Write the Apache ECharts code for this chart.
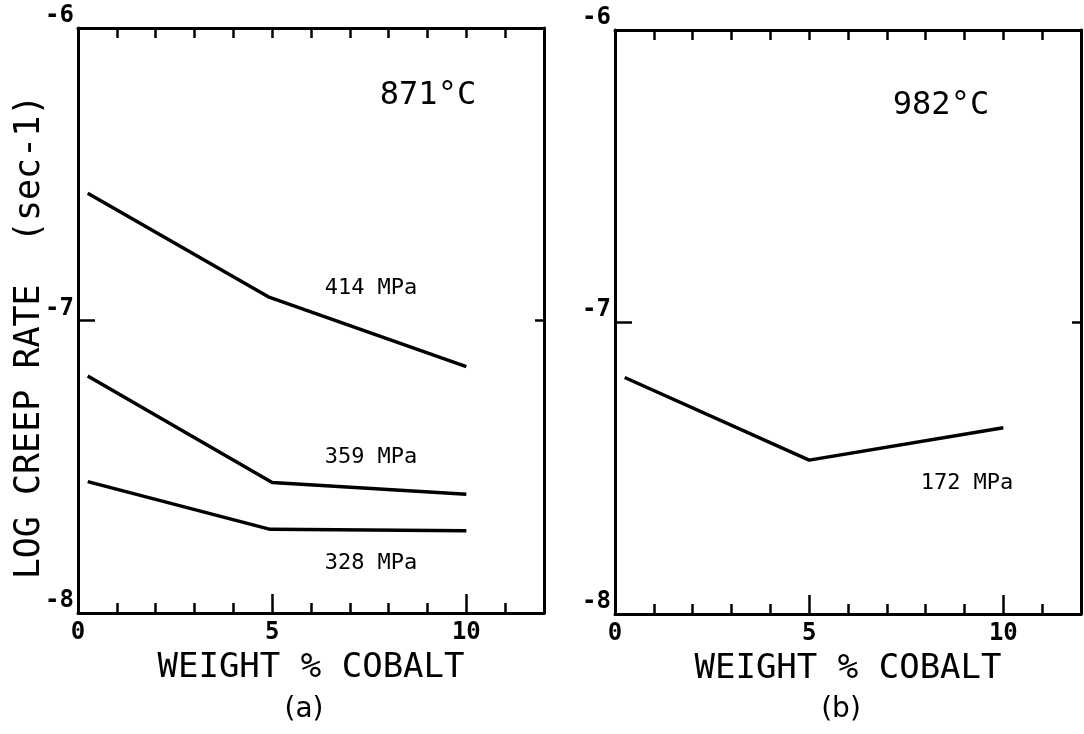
<!DOCTYPE html>
<html><head><meta charset="utf-8">
<script src="https://cdn.jsdelivr.net/npm/echarts@6/dist/echarts.min.js"></script>
<style>html,body{margin:0;padding:0;background:#fff}#c{width:1084px;height:734px}</style>
</head><body><div id="c"></div>
<script>
// ---- data ----
const cobalt414 = [0.25, 4.9, 10];
const rate414 = [-6.565, -6.919, -7.158];
const cobalt359 = [0.25, 5.0, 10];
const rate359 = [-7.19, -7.554, -7.594];
const cobalt328 = [0.25, 4.95, 10];
const rate328 = [-7.551, -7.714, -7.719];
const cobalt172 = [0.25, 5.0, 10];
const rate172 = [-7.19, -7.473, -7.362];
const xTickLabels = [0, 5, 10];
const yTickLabels = [-8, -7, -6];
const panelTemps = ['871°C', '982°C'];
const panelTags = ['(a)', '(b)'];
const stressLabelsA = ['414 MPa', '359 MPa', '328 MPa'];
const stressLabelsB = ['172 MPa'];

const F = 'DejaVu Sans Mono';
const K = '#000';
const zip = (xs, ys) => xs.map((x, i) => [x, ys[i]]);

function xBottom(gi) {
  return {
    type: 'value', gridIndex: gi, position: 'bottom', min: 0, max: 12, interval: 5,
    axisLine: { show: true, onZero: false, lineStyle: { color: K, width: 3 } },
    axisTick: { show: true, inside: true, length: 19, lineStyle: { color: K, width: 2.5 } },
    minorTick: { show: true, splitNumber: 5, length: 10, lineStyle: { color: K, width: 2.5 } },
    axisLabel: { show: true, margin: 8, color: K, fontFamily: F, fontWeight: 'bold', fontSize: 24,
      formatter: v => xTickLabels.includes(v) ? String(v) : '' },
    splitLine: { show: false }, minorSplitLine: { show: false },
    name: 'WEIGHT % COBALT', nameLocation: 'middle', nameGap: 38,
    nameTextStyle: { color: K, fontFamily: F, fontSize: 34 }
  };
}
function xTop(gi) {
  return {
    type: 'value', gridIndex: gi, position: 'top', min: 0, max: 12, interval: 1,
    axisLine: { show: true, onZero: false, lineStyle: { color: K, width: 3 } },
    axisTick: { show: true, inside: true, length: 10, lineStyle: { color: K, width: 2.5 } },
    axisLabel: { show: false }, splitLine: { show: false }
  };
}
function yLeft(gi) {
  return {
    type: 'value', gridIndex: gi, position: 'left', min: -8, max: -6, interval: 1,
    axisLine: { show: true, onZero: false, lineStyle: { color: K, width: 3 } },
    axisTick: { show: true, inside: true, length: 17, lineStyle: { color: K, width: 2.5 } },
    axisLabel: { show: true, margin: 4, verticalAlign: 'bottom', color: K, fontFamily: F, fontWeight: 'bold', fontSize: 24,
      formatter: v => yTickLabels.includes(v) ? String(v) : '' },
    splitLine: { show: false }
  };
}
function yRight(gi) {
  return {
    type: 'value', gridIndex: gi, position: 'right', min: -8, max: -6, interval: 1,
    axisLine: { show: true, onZero: false, lineStyle: { color: K, width: 3 } },
    axisTick: { show: true, inside: true, length: 9, lineStyle: { color: K, width: 2.5 } },
    axisLabel: { show: false }, splitLine: { show: false }
  };
}
function line(data, xi, yi) {
  return { type: 'line', data, xAxisIndex: xi, yAxisIndex: yi, showSymbol: false, symbol: 'none',
    lineStyle: { color: K, width: 3.5 }, silent: true, animation: false };
}
function txt(x, y, text, size, family, extra) {
  return Object.assign({ type: 'text', x, y, silent: true,
    style: { text, fill: K, fontSize: size, fontFamily: family, align: 'center', verticalAlign: 'middle' } }, extra || {});
}

const chart = echarts.init(document.getElementById('c'), null, { renderer: 'canvas' });
chart.setOption({
  backgroundColor: '#fff',
  animation: false,
  grid: [
    { left: 78, top: 28, width: 466, height: 585 },
    { left: 615, top: 30, width: 467, height: 584 }
  ],
  xAxis: [xBottom(0), xTop(0), xBottom(1), xTop(1)],
  yAxis: [yLeft(0), yRight(0), yLeft(1), yRight(1)],
  series: [
    line(zip(cobalt414, rate414), 0, 0),
    line(zip(cobalt359, rate359), 0, 0),
    line(zip(cobalt328, rate328), 0, 0),
    line(zip(cobalt172, rate172), 2, 2)
  ],
  graphic: [
    txt(30, 337, 'LOG CREEP RATE  (sec-1)', 35, F, { rotation: Math.PI / 2 }),
    txt(428, 96, panelTemps[0], 32, F),
    txt(941, 106, panelTemps[1], 32, F),
    txt(371, 288, stressLabelsA[0], 22, F),
    txt(371, 457, stressLabelsA[1], 22, F),
    txt(371, 563, stressLabelsA[2], 22, F),
    txt(967, 483, stressLabelsB[0], 22, F),
    txt(304, 710, panelTags[0], 28, 'DejaVu Sans'),
    txt(841, 710, panelTags[1], 28, 'DejaVu Sans')
  ]
});
</script>
</body></html>
